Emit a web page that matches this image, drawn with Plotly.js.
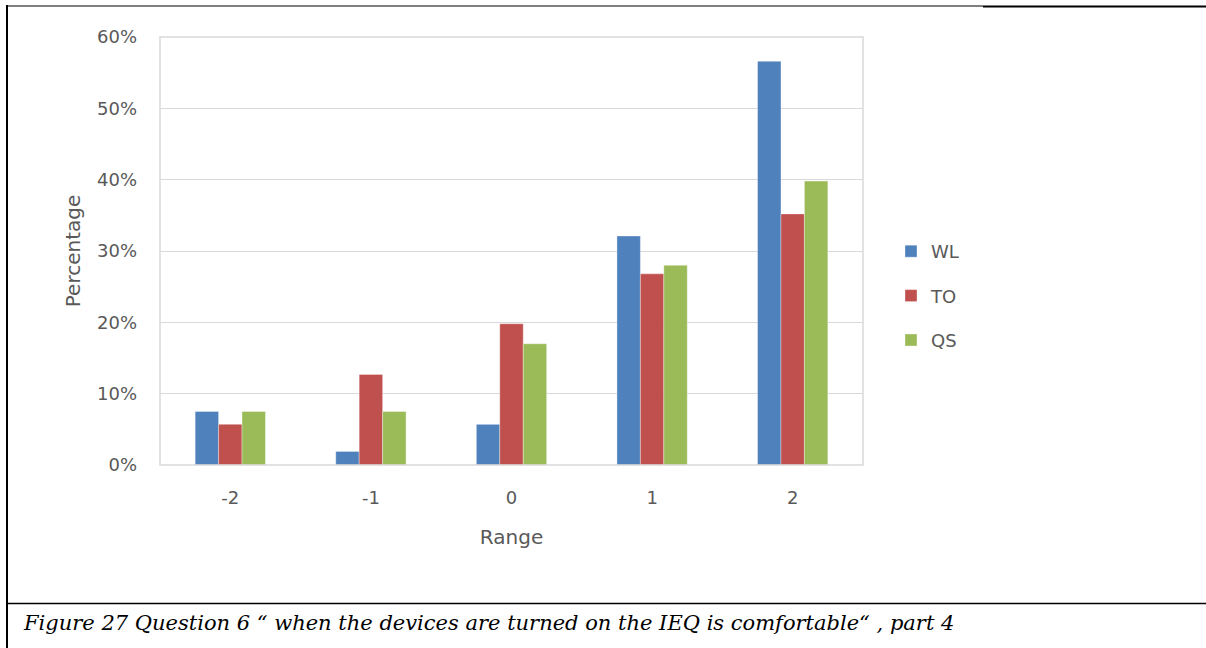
<!DOCTYPE html>
<html>
<head>
<meta charset="utf-8">
<script src="https://cdn.plot.ly/plotly-3.0.1.min.js"></script>
<style>
  html, body { margin: 0; padding: 0; background: #fff; }
  #chart { width: 1206px; height: 648px; }
</style>
</head>
<body>
<div id="chart"></div>
<script>
// Response scale for question 6, part 4
const categories = ['-2', '-1', '0', '1', '2'];
const seriesNames = ['WL', 'TO', 'QS'];
const wlValues = [7.5, 1.9, 5.7, 32.1, 56.6];
const toValues = [5.7, 12.7, 19.8, 26.8, 35.2];
const qsValues = [7.5, 7.5, 17.0, 28.0, 39.8];
const yTickValues = [0, 10, 20, 30, 40, 50, 60];
const yTickLabels = ['0%', '10%', '20%', '30%', '40%', '50%', '60%'];
const captionText = 'Figure 27 Question 6 \u201C when the devices are turned on the IEQ is comfortable\u201C , part 4';

const colors = ['#4F81BD', '#C0504D', '#9BBB59'];
const allValues = [wlValues, toValues, qsValues];

// Page geometry (pixels) for the plot box
const W = 1206, H = 648;
const plotL = 160, plotR = 863, plotT = 37, plotB = 465;
const px = x => (x - plotL) / (plotR - plotL);
const py = y => (plotB - y) / (plotB - plotT);

const traces = seriesNames.map((name, i) => ({
  type: 'bar',
  name: name,
  x: categories,
  y: allValues[i],
  legendgroup: name,
  marker: { color: colors[i], line: { color: 'rgba(255,255,255,0.35)', width: 1 } },
  hoverinfo: 'x+y+name'
}));

const font = '"DejaVu Sans", sans-serif';
const gray = '#595959';

const layout = {
  width: W, height: H,
  margin: { l: plotL, r: W - plotR, t: plotT, b: H - plotB, pad: 0 },
  paper_bgcolor: '#fff',
  plot_bgcolor: '#fff',
  barmode: 'group',
  bargap: 0.5,
  bargroupgap: 0,
  font: { family: font, size: 18, color: gray },
  xaxis: {
    type: 'category',
    showgrid: false,
    zeroline: false,
    showline: false,
    ticks: '',
    ticklabelstandoff: 20,
    tickfont: { family: font, size: 18, color: gray },
    title: { text: 'Range', font: { family: font, size: 20, color: gray }, standoff: 22 }
  },
  yaxis: {
    range: [0, 60],
    tickvals: yTickValues,
    ticktext: yTickLabels,
    showgrid: true,
    gridcolor: '#d9d9d9',
    gridwidth: 1,
    zeroline: false,
    showline: false,
    ticks: '',
    ticklabelstandoff: 22,
    tickfont: { family: font, size: 18, color: gray },
    title: { text: 'Percentage', font: { family: font, size: 20, color: gray }, standoff: 10 }
  },
  legend: {
    x: px(891), y: py(233), xanchor: 'left', yanchor: 'top',
    traceorder: 'grouped',
    tracegroupgap: 18,
    font: { family: font, size: 18, color: gray },
    bgcolor: 'rgba(0,0,0,0)',
    itemwidth: 30
  },
  shapes: [
    // plot area border
    { type: 'rect', xref: 'paper', yref: 'paper', x0: 0, x1: 1, y0: 0, y1: 1,
      line: { color: '#d9d9d9', width: 1.5 } },
    // figure frame
    { type: 'line', xref: 'paper', yref: 'paper', x0: px(6), x1: px(983), y0: py(6), y1: py(6),
      line: { color: '#000', width: 1 } },
    { type: 'line', xref: 'paper', yref: 'paper', x0: px(983), x1: px(1206), y0: py(6.5), y1: py(6.5),
      line: { color: '#000', width: 2 } },
    { type: 'line', xref: 'paper', yref: 'paper', x0: px(7), x1: px(7), y0: py(5), y1: py(648),
      line: { color: '#000', width: 2 } },
    { type: 'line', xref: 'paper', yref: 'paper', x0: px(7), x1: px(1206), y0: py(603.5), y1: py(603.5),
      line: { color: '#000', width: 1.5 } }
  ],
  annotations: [
    { xref: 'paper', yref: 'paper', x: px(21), y: py(623), xanchor: 'left', yanchor: 'middle',
      text: captionText, showarrow: false,
      font: { family: '"DejaVu Serif", serif', size: 21, color: '#000', style: 'italic' } }
  ]
};

Plotly.newPlot('chart', traces, layout, { displayModeBar: false, staticPlot: true });
</script>
</body>
</html>
